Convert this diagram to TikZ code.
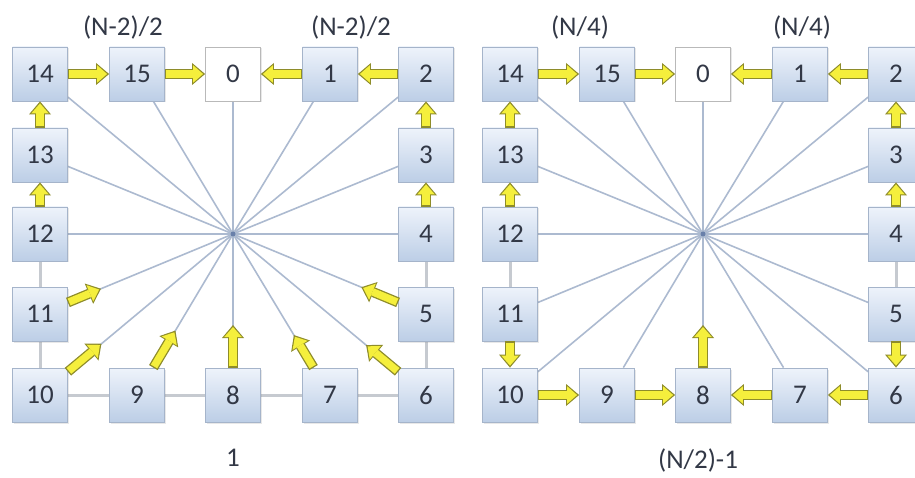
\documentclass[tikz,border=0pt]{standalone}
\usepackage{fontspec}
\setmainfont{Carlito}
\usetikzlibrary{arrows.meta,calc,backgrounds,shadows}

\definecolor{boxtop}{RGB}{238,243,251}
\definecolor{boxbot}{RGB}{188,206,230}
\definecolor{boxedge}{RGB}{165,180,202}
\definecolor{spokecol}{RGB}{172,186,208}
\definecolor{ringcol}{RGB}{198,202,208}
\definecolor{arrowfill}{RGB}{245,239,60}
\definecolor{arrowedge}{RGB}{142,140,42}
\definecolor{numcol}{RGB}{50,56,70}
\definecolor{hubcol}{RGB}{105,128,170}

\tikzset{
  proc/.style={draw=boxedge, line width=0.8pt, top color=boxtop, bottom color=boxbot,
    minimum width=55pt, minimum height=54pt, inner sep=0pt, text=numcol,
    font=\fontsize{27}{30}\selectfont,
    drop shadow={opacity=0.18, shadow xshift=1.5pt, shadow yshift=-1.5pt}},
  root/.style={proc, top color=white, bottom color=white, draw=gray!55},
  spoke/.style={draw=spokecol, line width=1.6pt},
  ring/.style={draw=ringcol, line width=3pt},
  fat/.style={draw=arrowedge, line width=10pt,
    -{Triangle[length=13pt, width=22pt, line width'=0pt]},
    postaction={draw=arrowfill, line width=7.4pt, shorten >=2pt, shorten <=1.3pt,
      -{Triangle[length=10pt, width=17.5pt, line width'=0pt]}}},
  lbl/.style={text=numcol, font=\fontsize{27}{30}\selectfont}
}

\begin{document}
\begin{tikzpicture}[x=1pt, y=-1pt]
    \useasboundingbox (0,0) rectangle (915,478);

    % Boxes of both rings
    \foreach \p/\dx in {L/0, R/470} {
      \begin{scope}[xshift=\dx]
        \node[root] (\p0) at (233,74) {0};
        \foreach \k/\x/\y in {1/330/74, 2/426/74, 3/426/155, 4/426/234, 5/426/314,
            6/426/395, 7/330/395, 8/233/395, 9/137/395, 10/40/395, 11/40/314,
            12/40/234, 13/40/155, 14/40/74, 15/137/74} {
          \node[proc] (\p\k) at (\x,\y) {\k};
        }
        \coordinate (\p hub) at (233,234);
      \end{scope}
    }

    % Spokes and ring links
    \begin{pgfonlayer}{background}
      \foreach \p in {L,R} {
        \foreach \k in {0,...,15} {
          \draw[spoke] (\p hub) -- (\p\k);
        }
        \draw[ring] (\p12) -- (\p11);
        \draw[ring] (\p4) -- (\p5);
      }
      \draw[ring] (L11) -- (L10) -- (L9) -- (L8) -- (L7) -- (L6) -- (L5);
    \end{pgfonlayer}
    \fill[hubcol] (Lhub) circle (2.5);
    \fill[hubcol] (Rhub) circle (2.5);

    % Top row and sides
    \foreach \p in {L,R} {
      \foreach \a/\b in {14/15, 15/0, 1/0, 2/1, 13/14, 12/13, 3/2, 4/3} {
        \draw[fat] (\p\a) -- (\p\b);
      }
    }

    % Left: lower boxes send towards the centre
    \foreach \k/\d in {11/66, 10/80, 9/75, 8/70, 7/70, 6/78, 5/70} {
      \coordinate (Lt\k) at ($(L\k)!\d pt!(Lhub)$);
      \draw[fat] (L\k) -- (Lt\k);
    }

    % Right: lower boxes gather into 8
    \foreach \a/\b in {11/10, 5/6, 10/9, 9/8, 7/8, 6/7} {
      \draw[fat] (R\a) -- (R\b);
    }
    \coordinate (Rt8) at ($(R8)!70pt!(Rhub)$);
    \draw[fat] (R8) -- (Rt8);

    % Step counts
    \node[lbl] (cntL1) at (123,28) {(N-2)/2};
    \node[lbl] (cntL2) at (351,28) {(N-2)/2};
    \node[lbl] (cntR1) at (580,28) {(N/4)};
    \node[lbl] (cntR2) at (802,28) {(N/4)};
    \node[lbl] (cntL3) at (233,458) {1};
    \node[lbl] (cntR3) at (698,460) {(N/2)-1};
\end{tikzpicture}
\end{document}
